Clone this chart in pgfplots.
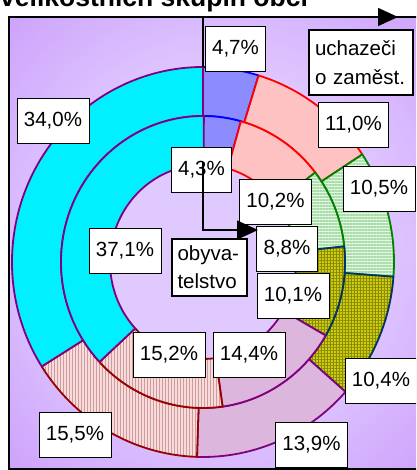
\documentclass[border=0pt]{standalone}
\usepackage{pgfplots}
\pgfplotsset{compat=1.18}
\usepackage{pgfplotstable}
\usetikzlibrary{patterns.meta,arrows.meta}
\usepackage{fontspec}
\setmainfont{Liberation Sans}

\definecolor{cblue}{HTML}{8C8CFF}
\definecolor{cred}{HTML}{FFC2C2}
\definecolor{cgreen}{HTML}{E4F6E4}
\definecolor{pgreen}{HTML}{A8DCA8}
\definecolor{bgreen}{HTML}{008000}
\definecolor{colive}{HTML}{CCCC10}
\definecolor{polive}{HTML}{8A8A00}
\definecolor{bolive}{HTML}{003366}
\definecolor{cpink}{HTML}{DDB6DD}
\definecolor{bpurple}{HTML}{800080}
\definecolor{cbrown}{HTML}{F6DCDC}
\definecolor{pbrown}{HTML}{D09A9A}
\definecolor{bbrown}{HTML}{990000}
\definecolor{ccyan}{HTML}{00F0FF}
\definecolor{bgin}{HTML}{E0C9FF}
\definecolor{bgout}{HTML}{C898FB}

\pgfdeclareradialshading{bgshade}{\pgfpoint{0bp}{0bp}}{color(0bp)=(bgin); color(18bp)=(bgin); color(40bp)=(bgout); color(50bp)=(bgout)}

% outer ring: uchazeci o zamestnani, inner ring: obyvatelstvo
\pgfplotstableread{
val
4.7
11.0
10.5
10.4
13.9
15.5
34.0
}\outerdata
\pgfplotstableread{
val
4.3
10.2
8.8
10.1
14.4
15.2
37.1
}\innerdata

\tikzset{
  seg0/.style={fill=cblue, draw=blue},
  seg1/.style={fill=cred, draw=red},
  seg2/.style={preaction={fill=cgreen}, pattern={Lines[angle=0,distance=3pt,line width=1.2pt]}, pattern color=pgreen, draw=bgreen},
  seg3/.style={preaction={fill=colive}, pattern={Hatch[angle=0,distance=3pt,line width=0.5pt]}, pattern color=polive, draw=bolive},
  seg4/.style={fill=cpink, draw=bpurple},
  seg5/.style={preaction={fill=cbrown}, pattern={Lines[angle=90,distance=3pt,line width=1pt]}, pattern color=pbrown, draw=bbrown},
  seg6/.style={fill=ccyan, draw=bpurple},
  lbl/.style={draw=black, line width=0.8pt, fill=white, font=\fontsize{20.5}{24}\selectfont, inner xsep=7pt, inner ysep=0pt, minimum height=45pt},
}

% #1 table, #2/#3 outer radii, #4/#5 inner radii
\newcommand\drawring[5]{%
  \pgfmathsetmacro\angA{90}%
  \pgfplotsforeachungrouped \i in {0,...,6}{%
    \pgfplotstablegetelem{\i}{val}\of#1%
    \pgfmathsetmacro\angB{\angA-3.6*\pgfplotsretval}%
    \edef\temp{\noexpand\path[seg\i, line width=1.8pt, line join=round, shift={(203pt,208pt)}]
      (\angA:#2pt and #3pt) arc[start angle=\angA, end angle=\angB, x radius=#2pt, y radius=#3pt]
      -- (\angB:#4pt and #5pt) arc[start angle=\angB, end angle=\angA, x radius=#4pt, y radius=#5pt] -- cycle;}%
    \temp
    \let\angA\angB
  }%
}

\begin{document}
\begin{tikzpicture}
\path[use as bounding box] (0,0) rectangle (416pt,470pt);
\clip (0,0) rectangle (416pt,470pt);
\begin{axis}[
    at={(0,0)}, anchor=south west,
    width=416pt, height=470pt, scale only axis,
    xmin=0, xmax=416, ymin=0, ymax=470,
    hide axis, clip=false,
  ]
  \shade[shading=bgshade] (axis cs:9,1) rectangle (axis cs:430,453);

  \drawring{\outerdata}{191}{195}{142}{146}
  \drawring{\innerdata}{142}{146}{93}{97}

  \node[anchor=base west, inner sep=0pt, font=\bfseries\fontsize{26.5}{30}\selectfont]
    at (axis cs:0,463.5) {velikostních skupin obcí};

  % outer ring labels
  \node[lbl] at (axis cs:235.5,421.5) {4,7\%};
  \node[lbl] at (axis cs:353.5,345) {11,0\%};
  \node[lbl] at (axis cs:379,281.5) {10,5\%};
  \node[lbl] at (axis cs:381,89.5) {10,4\%};
  \node[lbl] at (axis cs:311.5,25.5) {13,9\%};
  \node[lbl] at (axis cs:75,35.5) {15,5\%};
  \node[lbl] at (axis cs:53,349.5) {34,0\%};
  % inner ring labels
  \node[lbl] at (axis cs:201.5,300.5) {4,3\%};
  \node[lbl] at (axis cs:275.5,268) {10,2\%};
  \node[lbl] at (axis cs:287,221) {8,8\%};
  \node[lbl] at (axis cs:293,174) {10,1\%};
  \node[lbl] at (axis cs:249,115) {14,4\%};
  \node[lbl] at (axis cs:169,115) {15,2\%};
  \node[lbl] at (axis cs:125,219.5) {37,1\%};

  % series names
  \node[draw=black, line width=1.8pt, fill=white, font=\fontsize{20.5}{29}\selectfont,
        text width=92pt, align=left, inner xsep=6pt, minimum height=65pt]
    at (axis cs:361,407.5) {uchazeči\\o zaměst.};
  \node[draw=black, line width=1.8pt, fill=white, font=\fontsize{20.5}{28}\selectfont,
        text width=64pt, align=left, inner xsep=5.5pt, minimum height=57pt]
    at (axis cs:209.5,202.5) {obyva-\\telstvo};

  \draw[line width=1.4pt, -{Triangle[length=20pt,width=18pt]}]
    (axis cs:203,403) -- (axis cs:203,453) -- (axis cs:398,453);
  \draw[line width=1.4pt, -{Triangle[length=21pt,width=19pt]}]
    (axis cs:203,308) -- (axis cs:203,240) -- (axis cs:258,240);

  \draw[line width=1.4pt] (axis cs:9,1) rectangle (axis cs:430,453);
\end{axis}
\end{tikzpicture}
\end{document}
